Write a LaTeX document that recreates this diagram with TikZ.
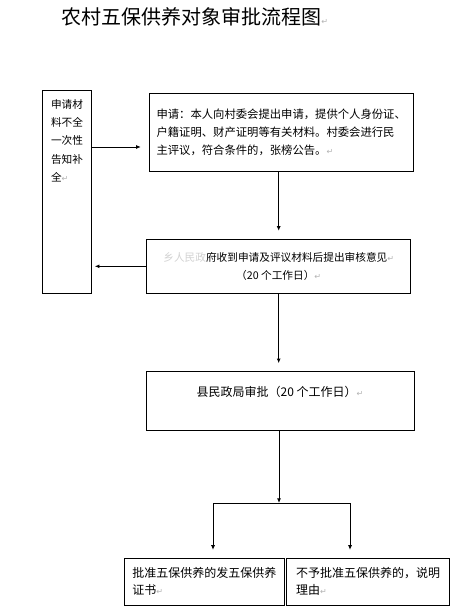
\documentclass[tikz,border=0pt]{standalone}
\usepackage{fontspec}
\setmainfont{Noto Sans CJK SC}
\newfontfamily\markfont{DejaVu Sans}
\usetikzlibrary{arrows.meta}
\newcommand{\retmark}{\textcolor{gray!60}{\markfont\fontsize{6pt}{6pt}\selectfont ↵}}
\begin{document}
\begin{tikzpicture}[x=.75pt,y=-.75pt,
  box/.style={draw,line width=.7pt,inner sep=0pt},
  arr/.style={line width=.7pt,-{Latex[length=3.5pt,width=3pt]},shorten >=6pt},
  txt/.style={font=\fontsize{9pt}{12.75pt}\selectfont,align=left}]
  \useasboundingbox (0,0) rectangle (459,609);
  \node[anchor=west,inner sep=0pt] (t) at (61,17) {\fontsize{15pt}{15pt}\selectfont 农村五保供养对象审批流程图\retmark};
  \node[box,minimum width=37pt,minimum height=152.25pt] (s) at (67,191.5) {};
  \node[anchor=north,inner sep=0pt,font=\fontsize{8pt}{13.7pt}\selectfont,align=left] (st) at (67,99) {申请材\\料不全\\一次性\\告知补\\全\retmark};
  \node[box,align=left,font=\fontsize{8.5pt}{13.5pt}\selectfont,inner xsep=4pt,minimum width=197.8pt,minimum height=58.3pt] (a) at (281.2,132.2) {申请：本人向村委会提出申请，提供个人身份证、\\户籍证明、财产证明等有关材料。村委会进行民\\主评议，符合条件的，张榜公告。\retmark};
  \node[box,align=center,font=\fontsize{8pt}{13.5pt}\selectfont,minimum width=198pt,minimum height=40.5pt] (v) at (278.7,266.3) {\textcolor{gray!35}{乡人民政}府收到申请及评议材料后提出审核意见\retmark\\（20 个工作日）\retmark};
  \node[box,minimum width=201.2pt,minimum height=44.25pt] (c) at (280.2,401.2) {};
  \node[inner sep=0pt,font=\fontsize{9pt}{9pt}\selectfont] (ct) at (280,392) {县民政局审批（20 个工作日）\retmark};
  \node[box,txt,minimum width=120pt,minimum height=35pt] (y) at (204.3,581.7) {批准五保供养的发五保供养\\证书\retmark};
  \node[box,txt,minimum width=122pt,minimum height=35pt] (n) at (368,581.7) {不予批准五保供养的，说明\\理由\retmark};
  \coordinate (h) at (0,147);
  \draw[arr] (s.east |- h) -- (a.west |- h);
  \draw[arr] (a.south -| v.north) -- (v.north);
  \draw[arr,shorten >=2pt] (v.west) -- (s.east |- v.west);
  \draw[arr] (v.south) -- (c.north -| v.south);
  \coordinate (j) at (279,503); \coordinate (l) at (213,503); \coordinate (r) at (350,503);
  \draw[arr,shorten >=0pt] (c.south -| j) -- (j);
  \draw[line width=.7pt] (l) -- (r);
  \draw[arr] (l) -- (l |- y.north);
  \draw[arr] (r) -- (r |- n.north);
\end{tikzpicture}
\end{document}
